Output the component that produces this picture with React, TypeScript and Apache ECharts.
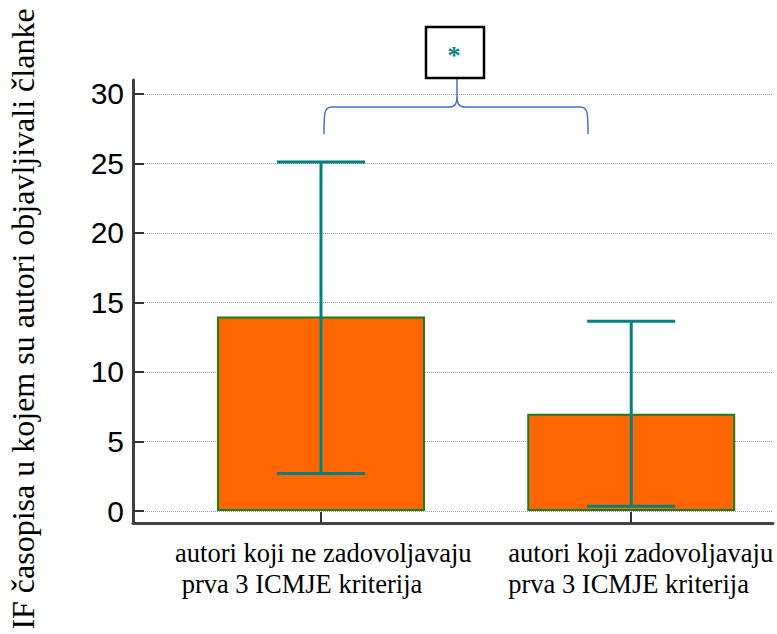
import React, { useEffect, useRef } from "react";
import * as echarts from "echarts";

// ---- data ----
const categories = [
  "autori koji ne zadovoljavaju\n prva 3 ICMJE kriterija",
  "autori koji zadovoljavaju\nprva 3 ICMJE kriterija",
];
const categoryPositions = [1, 2];
const labelAnchors = [0.5295, 1.6036];
const means = [14, 7];
const lows = [2.7, 0.35];
const highs = [25.1, 13.65];
const yTicks = [0, 5, 10, 15, 20, 25, 30];
const yTitle = "IF časopisa u kojem su autori objavljivali članke";
const significance = "*";

const SERIF = "'Liberation Serif', 'Times New Roman', serif";
const SANS = "'Liberation Sans', Arial, sans-serif";

const bracePath =
  "M324,134 C324,113 324,107 332,107 L449,107 C455,107 457,104 457,96 L457,78 M457,96 C457,104 459,107 465,107 L580,107 C588,107 588,113 588,134";
echarts.graphic.registerShape("brace", echarts.graphic.extendPath(bracePath, {}));

export default function App() {
  const ref = useRef<HTMLDivElement>(null);
  useEffect(() => {
    document.body.style.margin = "0";
    const chart = echarts.init(ref.current!, null, { renderer: "svg" });
    const option: any = {
      animation: false,
      backgroundColor: "#fff",
      grid: { left: 133, right: 4, top: 80, bottom: 111, containLabel: false },
      xAxis: {
        type: "value",
        min: 0.394,
        max: 2.457,
        axisLine: { show: true, onZero: false, lineStyle: { color: "#444", width: 3 } },
        axisTick: {
          show: true,
          inside: true,
          length: 11,
          customValues: categoryPositions,
          lineStyle: { color: "#333", width: 2 },
        },
        splitLine: { show: false },
        axisLabel: {
          customValues: labelAnchors,
          formatter: (v: number) => {
            let best = 0;
            labelAnchors.forEach((a, i) => {
              if (Math.abs(a - v) < Math.abs(labelAnchors[best] - v)) best = i;
            });
            return categories[best];
          },
          align: "left",
          fontFamily: SERIF,
          fontSize: 26.5,
          lineHeight: 31,
          color: "#000",
          margin: 14,
        },
      },
      yAxis: {
        type: "value",
        min: -0.86,
        max: 31,
        axisLine: { show: true, onZero: false, lineStyle: { color: "#404040", width: 3 } },
        axisTick: {
          show: true,
          inside: true,
          length: 11,
          customValues: yTicks,
          lineStyle: { color: "#333", width: 2 },
        },
        axisLabel: {
          customValues: yTicks,
          fontFamily: SANS,
          fontSize: 30,
          color: "#000",
          margin: 9,
        },
        splitLine: {
          show: true,
          lineStyle: { type: "dotted", color: "#999", width: 1 },
        },
      },
      series: [
        {
          type: "bar",
          data: means.map((m, i) => [categoryPositions[i], m]),
          barWidth: 208,
          itemStyle: { color: "#FF6600", borderColor: "#1E7B1E", borderWidth: 2 },
          z: 2,
        },
        {
          type: "custom",
          data: lows.map((l, i) => [categoryPositions[i], l, highs[i]]),
          encode: { x: 0, y: [1, 2] },
          z: 3,
          renderItem: (params: any, api: any) => {
            const x = api.value(0);
            const lo = api.coord([x, api.value(1)]);
            const hi = api.coord([x, api.value(2)]);
            const hw = 44;
            const st = { stroke: "#008080", lineWidth: 3 };
            return {
              type: "group",
              children: [
                { type: "line", shape: { x1: lo[0], y1: lo[1], x2: hi[0], y2: hi[1] }, style: st },
                { type: "line", shape: { x1: lo[0] - hw, y1: lo[1], x2: lo[0] + hw, y2: lo[1] }, style: st },
                { type: "line", shape: { x1: hi[0] - hw, y1: hi[1], x2: hi[0] + hw, y2: hi[1] }, style: st },
              ],
            };
          },
        },
      ],
      graphic: [
        {
          type: "text",
          x: 23,
          y: 319,
          rotation: Math.PI / 2,
          style: {
            text: yTitle,
            fontFamily: SERIF,
            fontSize: 32,
            fill: "#000",
            align: "center",
            verticalAlign: "middle",
          },
        },
        {
          type: "brace",
          x: 0,
          y: 0,
          style: { stroke: "#4472C4", fill: "none", lineWidth: 1.5 },
        },
        {
          type: "rect",
          shape: { x: 426, y: 27, width: 58, height: 51 },
          style: { stroke: "#000", fill: "#fff", lineWidth: 2.5 },
        },
        {
          type: "text",
          x: 454,
          y: 55,
          style: {
            text: significance,
            fontFamily: SERIF,
            fontSize: 26,
            fontWeight: "bold",
            fill: "#008080",
            align: "center",
            verticalAlign: "middle",
          },
        },
      ],
    };
    chart.setOption(option);
    return () => chart.dispose();
  }, []);
  return <div ref={ref} style={{ width: 777, height: 634 }} />;
}
